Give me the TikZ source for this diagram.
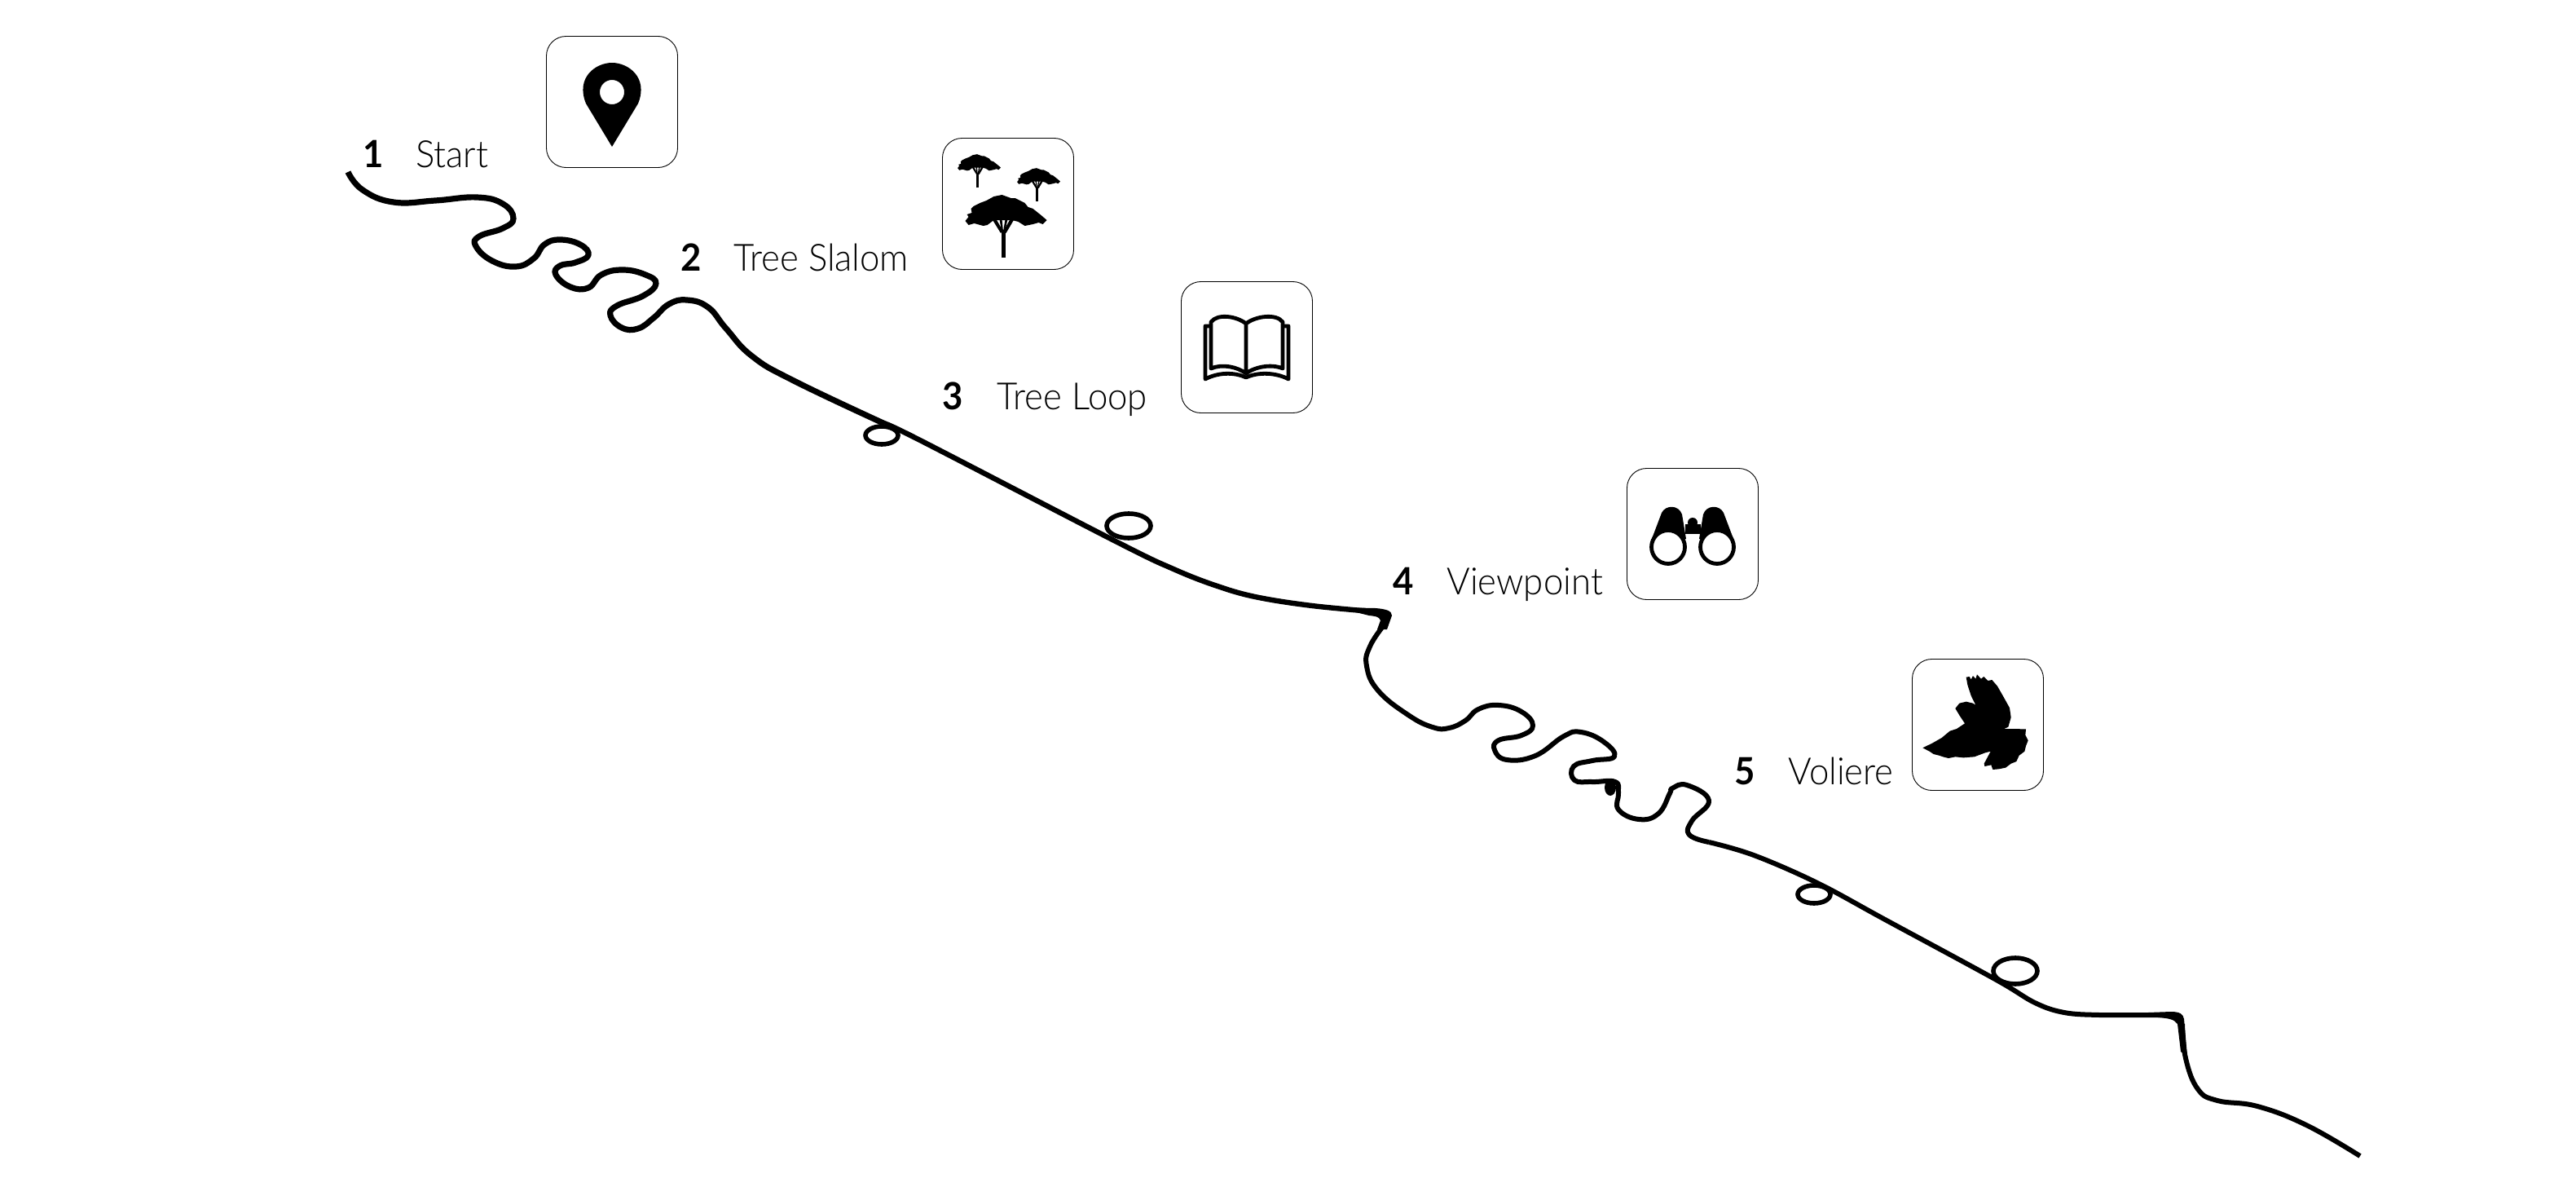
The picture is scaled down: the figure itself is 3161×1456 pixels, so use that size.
\documentclass[tikz,border=0pt]{standalone}
\usepackage{fontspec}
\setmainfont{Lato}[UprightFont=* Light,BoldFont=* Bold,FakeStretch=0.95]
\usetikzlibrary{positioning}

\begin{document}
\begin{tikzpicture}[
    x=0.5pt, y=-0.5pt,
    card/.style={rectangle, draw=black, fill=white, line width=0.45pt, rounded corners=12pt, minimum size=80.5pt, inner sep=0pt},
    num/.style={anchor=base west, inner sep=0pt, font=\fontsize{23}{23}\selectfont\bfseries},
    lbl/.style={anchor=base west, inner sep=0pt, font=\fontsize{23}{23}\selectfont},
    trail/.style={draw=black, line width=3.6pt, line join=round},
    ring/.style={draw=black, fill=white, line width=2.8pt},
    tree/.pic={
        \fill[black] (-47,-45) -- (-43,-50) -- (-45,-53) -- (-39,-55) -- (-40,-60) -- (-37,-63) -- (-29,-67) -- (-21,-70) -- (-12,-75) -- (-2,-77) -- (9,-73) -- (14,-73) -- (26,-67) -- (30,-62) -- (36,-60) -- (46,-52) -- (53,-46) -- (48,-41) -- (43,-43) -- (36,-41) -- (26,-39) -- (18,-44) -- (10,-46) -- (-12,-46) -- (-20,-40) -- (-25,-39) -- (-36,-42) -- (-43,-40) -- cycle;
        \fill[black] (-3,-34) rectangle (2.5,0);
        \fill[black] (-3.5,-30) -- (-14,-47) -- (-9,-47) -- (-1,-33) -- cycle;
        \fill[black] (-2.5,-32) -- (-5,-47) -- (-2,-47) -- (-0.5,-32) -- cycle;
        \fill[black] (-0.5,-32) -- (2,-47) -- (5,-47) -- (1.5,-32) -- cycle;
        \fill[black] (3,-30) -- (13,-47) -- (8,-47) -- (0,-33) -- cycle;
    }
]

% Trail
\useasboundingbox (0,0) rectangle (3161,1456);
\draw[trail] plot[smooth, tension=0.75] coordinates {(427,211) (445,233) (483,248) (534,246) (585,242) (617,250) (630,268) (617,280) (588,290) (584,302) (604,320) (633,327) (655,317) (668,300) (687,294) (712,300) (722,313) (706,322) (687,326) (682,337) (700,352) (722,353) (738,337) (764,331) (792,337) (805,348) (789,363) (757,375) (749,387) (763,402) (783,403) (802,390) (821,373) (843,368) (869,377) (891,403) (923,437) (974,467) (1086,520)};
\draw[trail, line width=3.2pt] plot[smooth, tension=0.6] coordinates {(1086,520) (1129,540) (1371,665) (1440,698) (1491,718) (1540,732) (1610,743) (1695,751)};
\draw[trail, line width=3pt] plot[smooth, tension=0.75] coordinates {(1698,767) (1681,793) (1677,817) (1691,847) (1728,877) (1758,892) (1778,893) (1798,884) (1814,870) (1839,865) (1867,873) (1881,890) (1867,902) (1839,908) (1834,920) (1849,932) (1884,927) (1919,903) (1940,898) (1968,910) (1981,928) (1954,933) (1931,940) (1932,957) (1954,959) (1982,959) (1986,973) (1986,993) (2011,1005) (2035,998) (2049,973) (2052,967) (2070,963) (2097,982) (2076,1007) (2073,1024) (2097,1033)};
\draw[trail, line width=3pt] plot[smooth, tension=0.6] coordinates {(2097,1033) (2152,1049) (2230,1083) (2315,1129) (2448,1201) (2497,1230) (2533,1242) (2576,1245) (2636,1245) (2667,1245)};
\draw[trail, line width=3pt] plot[smooth, tension=0.7] coordinates {(2678,1256) (2682,1298) (2697,1336) (2721,1350) (2770,1357) (2830,1380) (2896,1418)};

% Thick spots
\fill (1640,745) -- (1688,746) .. controls (1700,747) and (1708,749) .. (1708,755) -- (1702,772) -- (1690,772) -- (1694,761) .. controls (1692,756) and (1688,756) .. (1680,755) -- cycle;
\fill (2636,1242) -- (2664,1241) .. controls (2675,1241) and (2679,1244) .. (2680,1250) -- (2684,1296) -- (2676,1290) -- (2672,1256) .. controls (2668,1250) and (2660,1249) .. (2648,1248) -- cycle;
\fill (1976,966) ellipse[x radius=7, y radius=10];

% Loops
\draw[ring] (1082,534) ellipse[x radius=20, y radius=11];
\draw[ring] (1385,645) ellipse[x radius=27, y radius=15];
\draw[ring] (2226,1097) ellipse[x radius=20, y radius=11];
\draw[ring] (2473,1191) ellipse[x radius=27, y radius=16];

% Cards
\node[card] (pin) at (751,125) {};
\node[card] (trees) at (1237,250) {};
\node[card] (book) at (1530,426) {};
\node[card] (binoculars) at (2077,655) {};
\node[card] (bird) at (2427,889) {};

% Labels
\node[num] (n1) at (445,205) {1};
\node[lbl] (start) at (510,205) {Start};
\node[num] (n2) at (835,332) {2};
\node[lbl] (slalom) at (900,332) {Tree Slalom};
\node[num] (n3) at (1156,502) {3};
\node[lbl] (loop) at (1223,502) {Tree Loop};
\node[num] (n4) at (1709,729) {4};
\node[lbl] (viewpoint) at (1775,729) {Viewpoint};
\node[num] (n5) at (2128,962) {5};
\node[lbl] (voliere) at (2194,962) {Voliere};

% Pin icon
\begin{scope}[shift={(pin.center)}]
\fill[even odd rule] (0,55) -- (-32,2) .. controls (-45,-30) and (-20,-48) .. (0,-48) .. controls (20,-48) and (45,-30) .. (32,2) -- cycle (0,-12) circle[radius=15];
\end{scope}

% Tree icons
\path (trees.center) ++(-5.5,66) pic {tree};
\path (trees.center) ++(-37,-20) pic[scale=0.53] {tree};
\path (trees.center) ++(36,-3) pic[scale=0.53] {tree};

% Book icon
\begin{scope}[shift={(book.center)}, line width=2.4pt, line join=round]
\draw (-1,-29) .. controls (-12,-38) and (-36,-42) .. (-44,-31) -- (-44,26) .. controls (-30,20) and (-12,24) .. (-1,32) .. controls (10,24) and (30,20) .. (44,26) -- (44,-31) .. controls (36,-42) and (10,-38) .. (-1,-29) -- cycle (-1,-29) -- (-1,32);
\draw (-44,-26) -- (-51,-26) -- (-51,39) .. controls (-36,31) and (-16,30) .. (-1,37) .. controls (14,30) and (36,31) .. (51,39) -- (51,-26) -- (44,-26);
\end{scope}

% Binoculars icon
\begin{scope}[shift={(binoculars.center)}]
\fill (-9,-12) rectangle (10,0);
\fill (0,-14) circle[radius=6];
\foreach \s in {-1,1} {
  \fill (\s*52,11) -- (\s*38,-26) .. controls (\s*33,-36) and (\s*17,-36) .. (\s*13,-24) -- (\s*8,6) -- cycle;
  \draw[fill=white, line width=2.4pt] (\s*30,16) circle[radius=20.5];
}
\end{scope}

% Bird icon
\begin{scope}[shift={(bird.center)}, scale=1/3, shift={(-293,-297)}]
\fill (250,122) -- (262,120) -- (268,130) -- (275,117) -- (285,128) -- (290,112) -- (305,128) -- (315,120) -- (330,135) -- (345,132) -- (365,155) -- (385,190) -- (410,235) -- (415,270) -- (405,305) -- (390,312) -- (470,313) -- (468,335) -- (478,355) -- (470,375) -- (465,395) -- (445,410) -- (435,432) -- (415,440) -- (395,455) -- (370,460) -- (348,462) -- (342,445) -- (318,450) -- (316,440) -- (340,395) -- (320,400) -- (280,415) -- (240,418) -- (210,415) -- (185,420) -- (165,415) -- (150,410) -- (130,405) -- (115,395) -- (90,382) -- (125,365) -- (160,345) -- (190,320) -- (215,312) -- (245,292) -- (225,262) -- (210,237) -- (225,218) -- (250,212) -- (275,218) -- (285,225) -- (268,190) -- (255,150) -- cycle;
\end{scope}

\end{tikzpicture}
\end{document}
